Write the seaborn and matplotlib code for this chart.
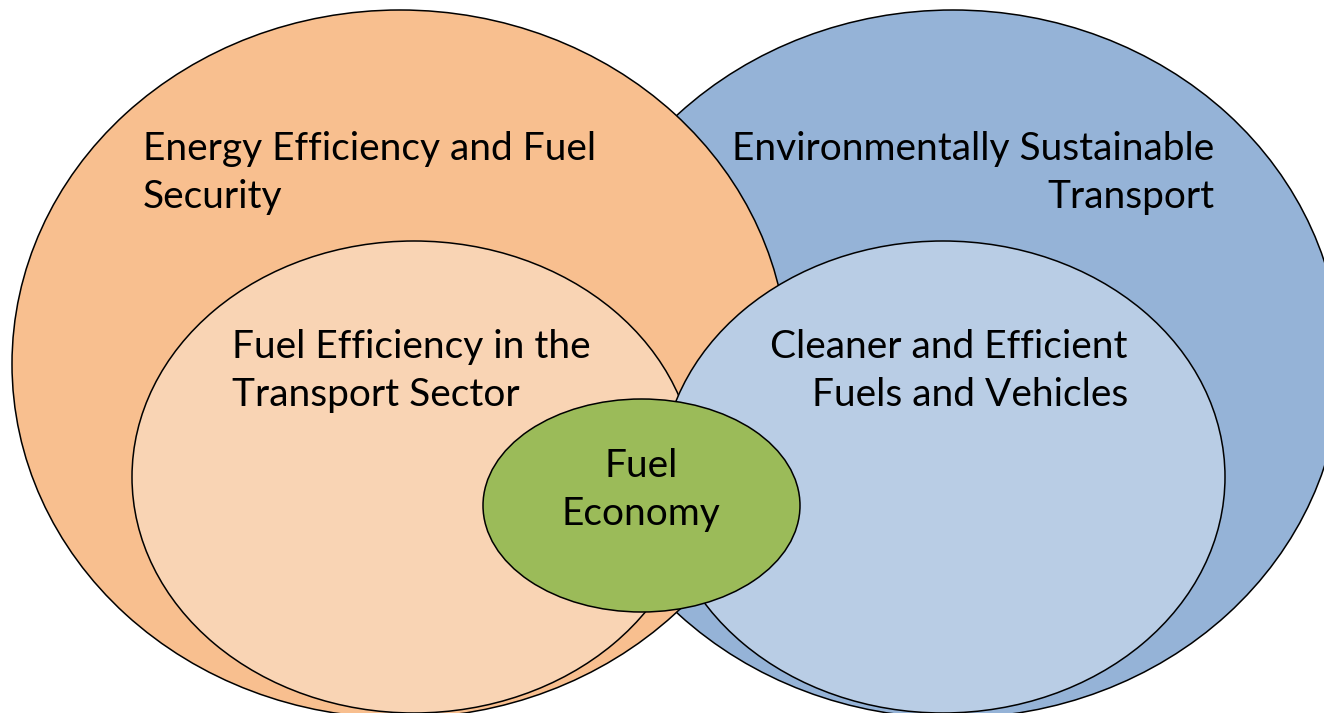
import numpy as np
import pandas as pd
import matplotlib.pyplot as plt
from matplotlib.patches import Ellipse
import seaborn as sns

sns.set_theme(style="white")
plt.rcParams['font.family'] = ['Lato', 'DejaVu Sans']

# Ellipses, back to front (canvas units, y grows downwards)
names = ['Environmentally Sustainable Transport', 'Energy Efficiency and Fuel Security',
         'Fuel Efficiency in the Transport Sector', 'Cleaner and Efficient Fuels and Vehicles',
         'Fuel Economy']
center_x = [953, 400, 414, 943, 641.5]
center_y = [364, 364, 477, 477, 505.5]
widths = [776, 776, 564, 564, 317]
heights = [708, 708, 472, 472, 213]
colors = ['#95B3D7', '#F8BF8F', '#F9D4B4', '#B9CDE5', '#9BBB59']

# Labels
label_text = ['Energy Efficiency and Fuel\nSecurity',
              'Environmentally Sustainable\nTransport',
              'Fuel Efficiency in the\nTransport Sector',
              'Cleaner and Efficient\nFuels and Vehicles',
              'Fuel\nEconomy']
label_x = [143, 1214, 232, 1128, 641]
label_y = [173, 173, 371, 371, 490]
label_ha = ['left', 'right', 'left', 'right', 'center']

df = pd.DataFrame({'name': names, 'cx': center_x, 'cy': center_y,
                   'w': widths, 'h': heights, 'color': colors})

fig = plt.figure(figsize=(13.24, 7.13), dpi=100)
ax = fig.add_axes([0, 0, 1, 1])

for i, row in df.iterrows():
    ax.add_patch(Ellipse((row.cx, row.cy), row.w, row.h, facecolor=row.color,
                         edgecolor='black', linewidth=1.1, zorder=i + 1))

for t, x, y, ha in zip(label_text, label_x, label_y, label_ha):
    ax.text(x, y, t, ha=ha, va='center', fontsize=28, color='black',
            linespacing=1.43, zorder=10)

ax.set_xlim(0, 1324)
ax.set_ylim(713, 0)
ax.axis('off')

fig.savefig('out.png', dpi=100)
